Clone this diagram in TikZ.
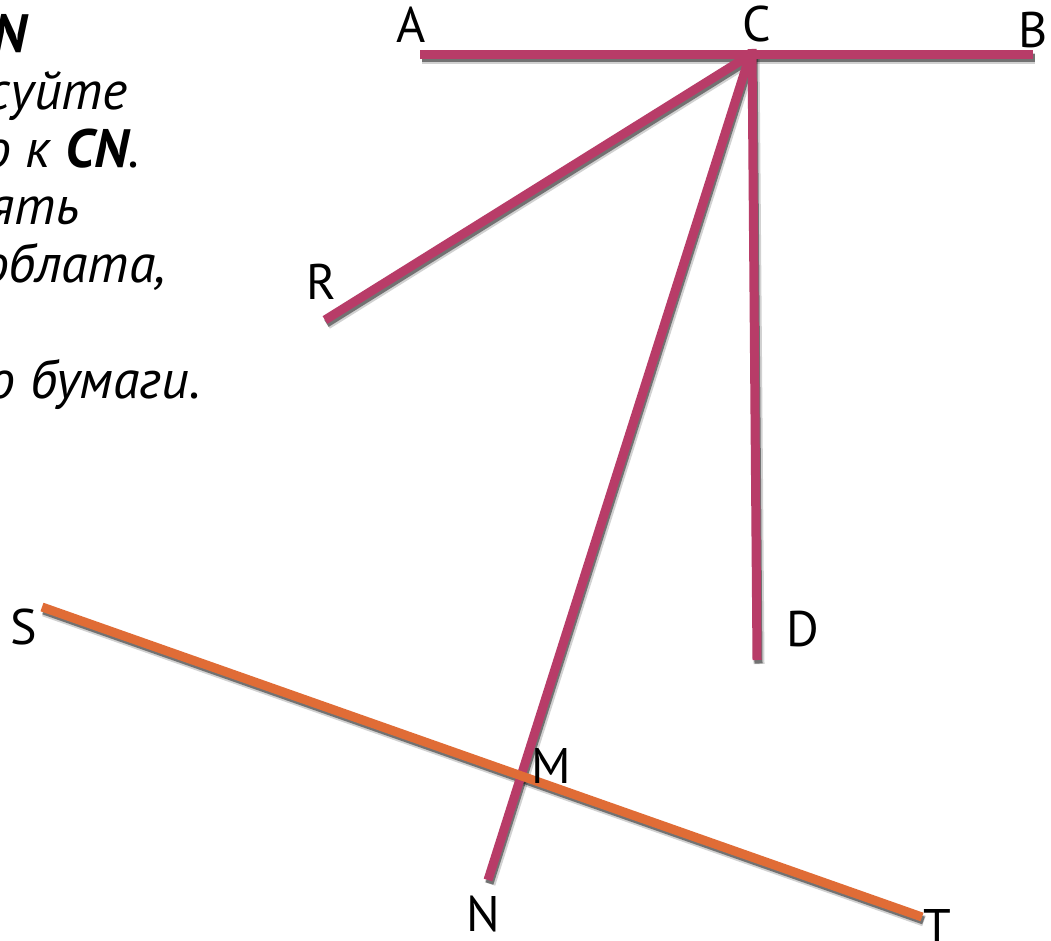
\documentclass[tikz,border=0pt]{standalone}
\usepackage{fontspec}
\setmainfont{PT Sans}
\definecolor{mag}{RGB}{184,60,104}
\definecolor{org}{RGB}{224,108,54}
\begin{document}
\begin{tikzpicture}[x=1pt,y=-1pt,
  seg/.style={line width=9pt},
  shad/.style={line width=11pt,black,opacity=0.18,transform canvas={shift={(2pt,-4pt)}}},
  shadin/.style={line width=8pt,black,opacity=0.45,transform canvas={shift={(1.5pt,-3.5pt)}}},
  lbl/.style={font=\fontsize{50}{50}\selectfont,inner sep=0pt},
  txt/.style={font=\fontsize{54}{56}\selectfont\itshape,inner sep=0pt,anchor=base east}]
\useasboundingbox (0,0) rectangle (1051,941);
\fill[white] (0,0) rectangle (1051,941);
% points
\coordinate (A) at (420,55);
\coordinate (B) at (1033,55);
\coordinate (C) at (750,55);
\coordinate (Ct) at (752,49);
\coordinate (R) at (325,320);
\coordinate (D) at (757,660);
\coordinate (N) at (488,880);
\coordinate (S) at (42,607);
\coordinate (T) at (922,917);
% shadows
\foreach \s in {shad,shadin}{
  \draw[\s] (A) -- (B);
  \draw[\s] (C) -- (R);
  \draw[\s] (C) -- (N);
  \draw[\s] (Ct) -- (D);
  \draw[\s] (S) -- (T);
}
% lines
\draw[seg,mag] (A) -- (B);
\draw[seg,mag] (C) -- (R);
\draw[seg,mag] (C) -- (N);
\draw[seg,mag] (Ct) -- (D);
\draw[seg,org] (S) -- (T);
% labels
\node[lbl] (lA) at (411,25) {A};
\node[lbl] (lC) at (757,24) {C};
\node[lbl] (lB) at (1033,30) {B};
\node[lbl] (lR) at (321,282) {R};
\node[lbl] (lS) at (24,627) {S};
\node[lbl] (lD) at (803,629) {D};
\node[lbl] (lM) at (551,766) {M};
\node[lbl] (lN) at (483,914) {N};
\node[lbl] (lT) at (937,927) {T};
% text fragments
\node[txt] (t1) at (27,53) {\bfseries N};
\node[txt] (t2) at (128,110) {суйте};
\node[txt] (t3) at (140,168) {о к \textbf{CN}.};
\node[txt] (t4) at (80,225) {ять};
\node[txt] (t5) at (166,282) {облата,};
\node[txt] (t6) at (201,398) {о бумаги.};
\end{tikzpicture}
\end{document}
